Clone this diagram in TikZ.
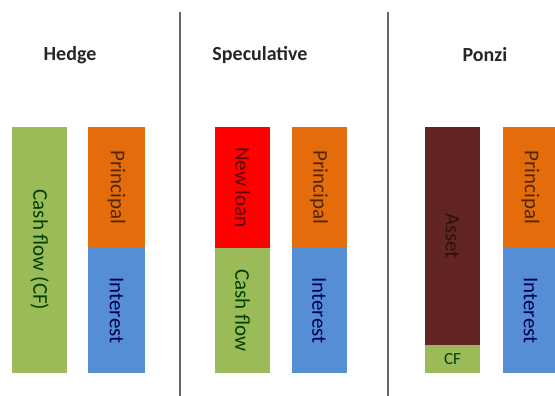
\documentclass[tikz,border=0pt]{standalone}
\usepackage{fontspec}
\setmainfont{Carlito}
\usetikzlibrary{positioning}

\definecolor{cfgreen}{HTML}{9BBB59}
\definecolor{prorange}{HTML}{E46C0A}
\definecolor{intblue}{HTML}{558ED5}
\definecolor{loanred}{HTML}{FF0000}
\definecolor{assetbrown}{HTML}{632523}

\begin{document}
\begin{tikzpicture}[
        x=1pt, y=-1pt,
        title/.style={font=\bfseries\fontsize{20}{24}\selectfont, text=black!85},
        seg/.style={rectangle, inner sep=0pt, outer sep=0pt, rotate=-90,
                    font=\fontsize{21}{24}\selectfont},
        divider/.style={draw=black!60, line width=1.8pt},
    ]
        \useasboundingbox (0,0) rectangle (555,396);

        % column headings
        \node[title] (hedge) at (70,55) {Hedge};
        \node[title] (spec)  at (260,55) {Speculative};
        \node[title] (ponzi) at (485,55) {Ponzi};

        % separators
        \coordinate (d1top) at (180,12);  \coordinate (d1bot) at (180,396);
        \coordinate (d2top) at (388,12);  \coordinate (d2bot) at (388,396);
        \draw[divider] (d1top) -- (d1bot);
        \draw[divider] (d2top) -- (d2bot);

        % hedge
        \node[seg, fill=cfgreen, text=green!25!black, minimum width=246, minimum height=55]
            (hcf) at (39.5,250) {Cash flow (CF)};
        \node[seg, fill=prorange, text=prorange!35!black, minimum width=121, minimum height=57]
            (hpr) at (116.5,187.5) {Principal};
        \node[seg, fill=intblue, text=blue!30!black, minimum width=125, minimum height=57]
            (hint) at (116.5,310.5) {Interest};

        % speculative
        \node[seg, fill=loanred, text=red!35!black, minimum width=121, minimum height=55]
            (sloan) at (242.5,187.5) {New loan};
        \node[seg, fill=cfgreen, text=green!25!black, minimum width=125, minimum height=55]
            (scf) at (242.5,310.5) {Cash flow};
        \node[seg, fill=prorange, text=prorange!35!black, minimum width=121, minimum height=55]
            (spr) at (319,187.5) {Principal};
        \node[seg, fill=intblue, text=blue!30!black, minimum width=125, minimum height=55]
            (sint) at (319,310.5) {Interest};

        % ponzi
        \node[seg, fill=assetbrown, text=assetbrown!45!black, minimum width=218, minimum height=55]
            (passet) at (452.5,236) {Asset};
        \node[seg, rotate=90, fill=cfgreen, text=green!25!black, minimum width=55, minimum height=28,
              font=\fontsize{17}{20}\selectfont]
            (pcf) at (452.5,359) {CF};
        \node[seg, fill=prorange, text=prorange!35!black, minimum width=121, minimum height=55]
            (ppr) at (530.5,187.5) {Principal};
        \node[seg, fill=intblue, text=blue!30!black, minimum width=125, minimum height=55]
            (pint) at (530.5,310.5) {Interest};
\end{tikzpicture}
\end{document}
